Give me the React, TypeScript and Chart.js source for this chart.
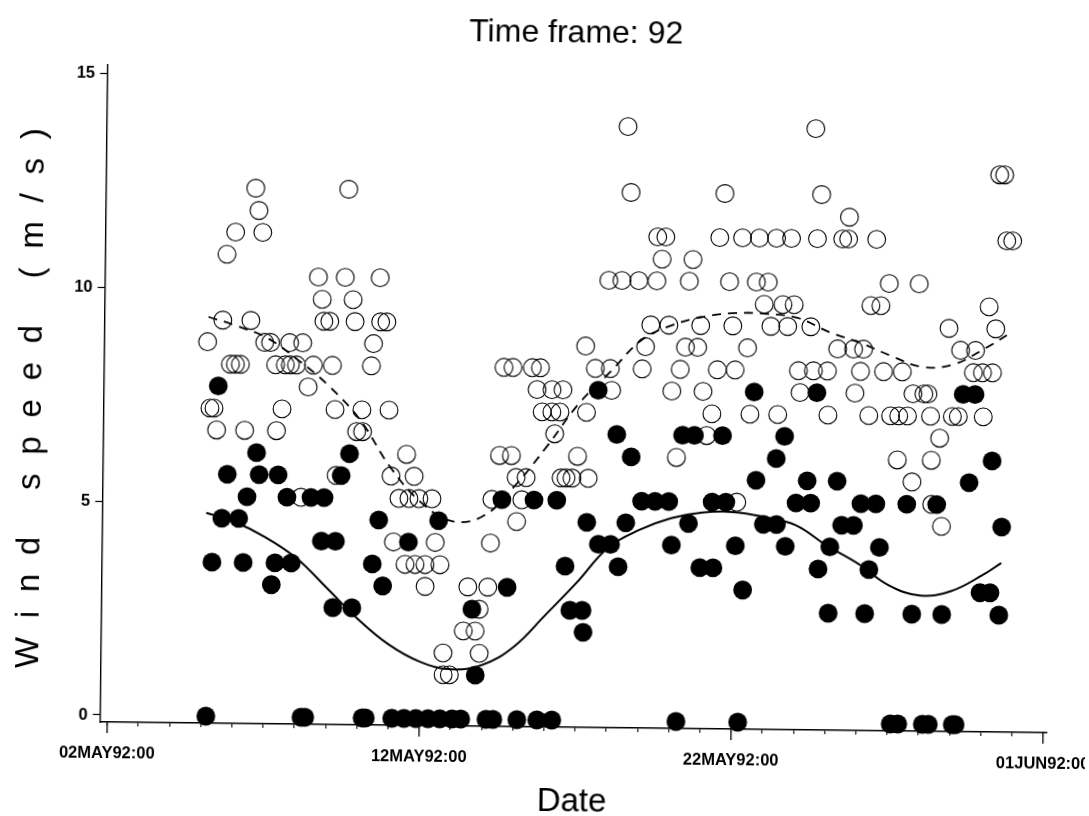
import { useEffect, useRef } from 'react';
import { Chart, registerables } from 'chart.js';

Chart.register(...registerables);

// ---- data (days since 02MAY92:00, wind speed in m/s) ----
const titleText = 'Time frame: 92';
const xAxisTitle = 'Date';
const yAxisTitle = 'W i n d   s p e e d   ( m / s )';
const dateTickDays = [0, 10, 20, 30];
const dateTickLabels = ['02MAY92:00', '12MAY92:00', '22MAY92:00', '01JUN92:00'];
const speedTickStep = 5;

const openPoints: [number, number][] = [
  [3.08, 8.75], [3.18, 7.2], [3.31, 7.2], [3.4, 6.69], [3.56, 9.26], [3.67, 10.8], [3.82, 8.23], [3.98, 8.23],
  [3.94, 11.32], [4.14, 8.23], [4.3, 6.69], [4.46, 9.26], [4.57, 12.35], [4.68, 11.83], [4.81, 11.32], [4.91, 8.75],
  [5.1, 8.75], [5.27, 8.23], [5.32, 6.69], [5.49, 7.2], [5.58, 8.23], [5.71, 8.75], [5.74, 8.23], [5.94, 8.23],
  [6.13, 8.75], [6.13, 5.14], [6.32, 7.72], [6.48, 8.23], [6.61, 10.29], [6.74, 9.77], [6.8, 9.26], [6.99, 9.26],
  [7.09, 8.23], [7.19, 7.2], [7.25, 5.66], [7.47, 10.29], [7.55, 12.35], [7.73, 9.77], [7.8, 9.26], [7.89, 6.69],
  [8.05, 7.2], [8.08, 6.69], [8.34, 8.23], [8.4, 8.75], [8.59, 10.29], [8.62, 9.26], [8.82, 9.26], [8.92, 7.2],
  [9.01, 5.66], [9.11, 4.12], [9.27, 5.14], [9.49, 3.6], [9.5, 6.17], [9.59, 5.14], [9.75, 5.66], [9.81, 3.6],
  [9.91, 5.14], [10.13, 3.6], [10.14, 3.09], [10.33, 5.14], [10.45, 4.12], [10.61, 3.6], [10.74, 1.54], [10.75, 1.03],
  [10.95, 1.03], [11.38, 2.06], [11.51, 3.09], [11.76, 2.06], [11.88, 2.57], [11.9, 1.54], [12.15, 3.09], [12.22, 4.12],
  [12.25, 5.14], [12.48, 6.17], [12.59, 8.23], [12.86, 6.17], [12.88, 8.23], [13.02, 5.66], [13.05, 4.63], [13.21, 5.14],
  [13.34, 5.66], [13.5, 8.23], [13.66, 7.72], [13.76, 8.23], [13.83, 7.2], [14.14, 7.72], [14.14, 7.2], [14.24, 6.69],
  [14.4, 7.2], [14.46, 5.66], [14.49, 7.72], [14.62, 5.66], [14.81, 5.66], [14.98, 6.17], [15.2, 8.75], [15.25, 7.2],
  [15.33, 5.66], [15.52, 8.23], [15.92, 10.29], [16.0, 8.23], [16.05, 7.72], [16.34, 10.29], [16.48, 13.89], [16.6, 12.35],
  [16.88, 10.29], [17.02, 8.23], [17.12, 8.75], [17.28, 9.26], [17.46, 10.29], [17.47, 11.32], [17.62, 10.8], [17.73, 11.32],
  [17.86, 9.26], [17.98, 7.72], [18.15, 6.17], [18.24, 8.23], [18.4, 8.75], [18.5, 10.29], [18.61, 10.8], [18.79, 8.75],
  [18.88, 9.26], [18.98, 7.72], [19.11, 6.69], [19.27, 7.2], [19.43, 8.23], [19.46, 11.32], [19.61, 12.35], [19.79, 10.29],
  [19.91, 9.26], [20.0, 8.23], [20.1, 5.14], [20.19, 11.32], [20.39, 8.75], [20.49, 7.2], [20.65, 10.29], [20.73, 11.32],
  [20.91, 9.77], [21.03, 10.29], [21.13, 9.26], [21.28, 11.32], [21.38, 7.2], [21.51, 9.77], [21.67, 9.26], [21.76, 11.32],
  [21.87, 9.77], [22.03, 8.23], [22.09, 7.72], [22.41, 9.26], [22.51, 8.23], [22.5, 13.89], [22.59, 11.32], [22.71, 12.35],
  [22.96, 8.23], [22.99, 7.2], [23.28, 8.75], [23.4, 11.32], [23.59, 11.32], [23.61, 11.83], [23.79, 8.75], [23.85, 7.72],
  [24.02, 8.23], [24.11, 8.75], [24.3, 7.2], [24.33, 9.77], [24.49, 11.32], [24.65, 9.77], [24.76, 8.23], [24.91, 10.29],
  [25.0, 7.2], [25.23, 6.17], [25.26, 7.2], [25.36, 8.23], [25.54, 7.2], [25.71, 7.72], [25.71, 5.66], [25.87, 10.29],
  [26.06, 7.72], [26.19, 7.72], [26.28, 7.2], [26.32, 6.17], [26.35, 5.14], [26.58, 6.69], [26.67, 4.63], [26.84, 9.26],
  [26.98, 7.2], [27.17, 7.2], [27.22, 8.75], [27.64, 8.23], [27.7, 8.75], [27.93, 8.23], [27.97, 7.2], [28.12, 9.77],
  [28.25, 8.23], [28.34, 9.26], [28.41, 12.86], [28.57, 12.86], [28.66, 11.32], [28.85, 11.32],
];

const filledPoints: [number, number][] = [
  [3.16, 0], [3.3, 3.6], [3.44, 7.72], [3.6, 4.63], [3.76, 5.66], [4.14, 4.63], [4.3, 3.6], [4.4, 5.14],
  [4.69, 6.17], [4.78, 5.66], [5.21, 3.09], [5.32, 3.6], [5.39, 5.66], [5.68, 5.14], [5.84, 3.6], [6.21, 0],
  [6.33, 0], [6.45, 5.14], [6.8, 4.12], [6.87, 5.14], [7.19, 2.57], [7.25, 4.12], [7.41, 5.66], [7.67, 6.17],
  [7.8, 2.57], [8.17, 0], [8.27, 0], [8.44, 3.6], [8.63, 4.63], [8.78, 3.09], [9.12, 0], [9.51, 0],
  [9.59, 4.12], [9.89, 0], [10.28, 0], [10.66, 0], [10.55, 4.63], [11.05, 0], [11.33, 0], [11.65, 2.57],
  [11.78, 1.03], [12.14, 0], [12.36, 0], [12.57, 5.14], [12.77, 3.09], [13.13, 0], [13.77, 0], [13.6, 5.14],
  [14.25, 0], [14.33, 5.14], [14.62, 3.6], [14.79, 2.57], [15.18, 2.57], [15.22, 2.06], [15.3, 4.63], [15.62, 7.72],
  [15.68, 4.12], [16.07, 4.12], [16.23, 6.69], [16.32, 3.6], [16.55, 4.63], [16.7, 6.17], [17.05, 5.14], [17.48, 5.14],
  [17.92, 5.14], [18.02, 4.12], [18.23, 0], [18.34, 6.69], [18.56, 4.63], [18.72, 6.69], [18.94, 3.6], [19.36, 3.6],
  [19.31, 5.14], [19.62, 6.69], [19.75, 5.14], [20.07, 4.12], [20.21, 0], [20.32, 3.09], [20.62, 7.72], [20.71, 5.66],
  [20.96, 4.63], [21.35, 6.17], [21.38, 4.63], [21.61, 6.69], [21.67, 4.12], [22.0, 5.14], [22.35, 5.66], [22.47, 5.14],
  [22.63, 7.72], [22.73, 3.6], [23.07, 2.57], [23.1, 4.12], [23.31, 5.66], [23.47, 4.63], [23.85, 4.63], [24.08, 5.14],
  [24.24, 2.57], [24.36, 3.6], [24.56, 5.14], [24.69, 4.12], [25.1, 0], [25.34, 0], [25.55, 5.14], [25.75, 2.57],
  [26.13, 0], [26.32, 0], [26.51, 5.14], [26.71, 2.57], [27.09, 0], [27.18, 0], [27.32, 7.72], [27.54, 5.66],
  [27.7, 7.72], [27.93, 3.09], [28.25, 3.09], [28.27, 6.17], [28.54, 2.57], [28.6, 4.63],
];

const dashedFit: [number, number][] = [
  [3.1, 9.33], [4, 9.13], [5, 8.85], [6, 8.34], [7, 7.74], [8, 6.96], [9, 5.85], [10, 5.04], [11, 4.62],
  [12, 4.76], [13, 5.48], [14, 6.4], [15, 7.4], [16, 8.15], [17, 8.91], [18, 9.27], [19, 9.47], [20, 9.56],
  [21, 9.55], [22, 9.46], [23, 9.14], [24, 8.9], [25, 8.6], [26, 8.35], [27, 8.42], [28, 8.8], [28.82, 9.17],
];

const solidFit: [number, number][] = [
  [3.1, 4.75], [4, 4.55], [5, 4.2], [6, 3.72], [7, 3.02], [8, 2.31], [9, 1.72], [10, 1.33], [11, 1.16],
  [12, 1.27], [13, 1.7], [14, 2.45], [15, 3.22], [16, 4.05], [17, 4.47], [18, 4.75], [19, 4.89], [20, 4.91],
  [21, 4.8], [22, 4.62], [23, 4.15], [24, 3.74], [25, 3.24], [26, 3.01], [27, 3.12], [28, 3.5], [28.6, 3.79],
];

const FONT = '"Liberation Sans", Arial, Helvetica, sans-serif';

const toXY = (pts: [number, number][]) => pts.map(([x, y]) => ({ x, y }));

const decorPlugin = {
  id: 'decor',
  afterDraw(chart: any) {
    const ctx: CanvasRenderingContext2D = chart.ctx;
    const xs = chart.scales.x;
    const area = chart.chartArea;
    ctx.save();
    ctx.strokeStyle = '#000';
    ctx.fillStyle = '#000';
    ctx.lineWidth = 1.3;
    // major ticks (longer) + labels
    ctx.font = `bold 16.5px ${FONT}`;
    ctx.textAlign = 'center';
    ctx.textBaseline = 'middle';
    dateTickDays.forEach((d, i) => {
      const px = xs.getPixelForValue(d);
      ctx.beginPath();
      ctx.moveTo(px, area.bottom);
      ctx.lineTo(px, area.bottom + 11);
      ctx.stroke();
      ctx.fillText(dateTickLabels[i], px, 758);
    });
    // title
    ctx.font = `32px ${FONT}`;
    ctx.fillText(titleText, 572, 33);
    // x axis title
    ctx.font = `33px ${FONT}`;
    ctx.fillText(xAxisTitle, 576, 802);
    // y axis title (rotated, spaced)
    ctx.translate(32, 404);
    ctx.rotate(-Math.PI / 2);
    ctx.font = `33px ${FONT}`;
    (ctx as any).letterSpacing = '0px';
    const w0 = ctx.measureText(yAxisTitle).width;
    const n = [...yAxisTitle].length;
    const total = 540;
    const ls = (total - w0) / (n - 1);
    (ctx as any).letterSpacing = `${ls}px`;
    ctx.textAlign = 'left';
    ctx.fillText(yAxisTitle, -total / 2, 0);
    ctx.restore();
  },
};

export default function App() {
  const canvasRef = useRef<HTMLCanvasElement>(null);

  useEffect(() => {
    document.documentElement.style.overflow = 'hidden';
    document.body.style.overflow = 'hidden';
    const canvas = canvasRef.current;
    if (!canvas) return;
    const chart = new Chart(canvas, {
      type: 'scatter',
      data: {
        datasets: [
          {
            label: 'upper fit',
            data: toXY(dashedFit),
            showLine: true,
            borderColor: '#000',
            borderWidth: 1.8,
            borderDash: [9, 7],
            pointRadius: 0,
            tension: 0.4,
            fill: false,
            order: 0,
            clip: false,
          } as any,
          {
            label: 'lower fit',
            data: toXY(solidFit),
            showLine: true,
            borderColor: '#000',
            borderWidth: 2,
            pointRadius: 0,
            tension: 0.4,
            fill: false,
            order: 0,
            clip: false,
          } as any,
          {
            label: 'filled',
            data: toXY(filledPoints),
            pointRadius: 9.4,
            pointBorderWidth: 0,
            pointBackgroundColor: '#000',
            pointBorderColor: '#000',
            showLine: false,
            order: 1,
            clip: false,
          } as any,
          {
            label: 'open',
            data: toXY(openPoints),
            pointRadius: 8.9,
            pointBorderWidth: 1.1,
            pointBackgroundColor: 'rgba(0,0,0,0)',
            pointBorderColor: '#000',
            showLine: false,
            order: 2,
            clip: false,
          } as any,
        ],
      },
      options: {
        responsive: false,
        animation: false,
        events: [],
        layout: { padding: { left: 43.3, right: 38.3, top: 70, bottom: 39 } },
        plugins: {
          legend: { display: false },
          tooltip: { enabled: false },
          title: { display: false },
        },
        scales: {
          x: {
            type: 'linear',
            min: -0.24,
            max: 30.13,
            afterFit: (s: any) => {
              s.height = 50;
            },
            ticks: { display: false, stepSize: 1, includeBounds: false, autoSkip: false },
            grid: {
              drawOnChartArea: false,
              drawTicks: true,
              tickLength: 4,
              tickColor: '#000',
              tickWidth: 1.1,
            },
            border: { display: true, color: '#000', width: 1.4 },
          },
          y: {
            type: 'linear',
            min: -0.164,
            max: 15.19,
            afterFit: (s: any) => {
              s.width = 60;
            },
            ticks: {
              stepSize: speedTickStep,
              includeBounds: false,
              autoSkip: false,
              color: '#000',
              padding: 5,
              font: { family: FONT, size: 16.5, weight: 'bold' },
            },
            grid: {
              drawOnChartArea: false,
              drawTicks: true,
              tickLength: 7,
              tickColor: '#000',
              tickWidth: 1.2,
            },
            border: { display: true, color: '#000', width: 1.4 },
          },
        },
      } as any,
      plugins: [decorPlugin],
    });
    return () => chart.destroy();
  }, []);

  return (
    <div
      style={{
        position: 'fixed',
        left: 0,
        top: 0,
        width: 1089,
        height: 816,
        background: '#fff',
        transform: 'rotate(0.65deg)',
        transformOrigin: '544.5px 408px',
      }}
    >
      <canvas ref={canvasRef} width={1089} height={816} style={{ display: 'block', width: 1089, height: 816 }} />
    </div>
  );
}
